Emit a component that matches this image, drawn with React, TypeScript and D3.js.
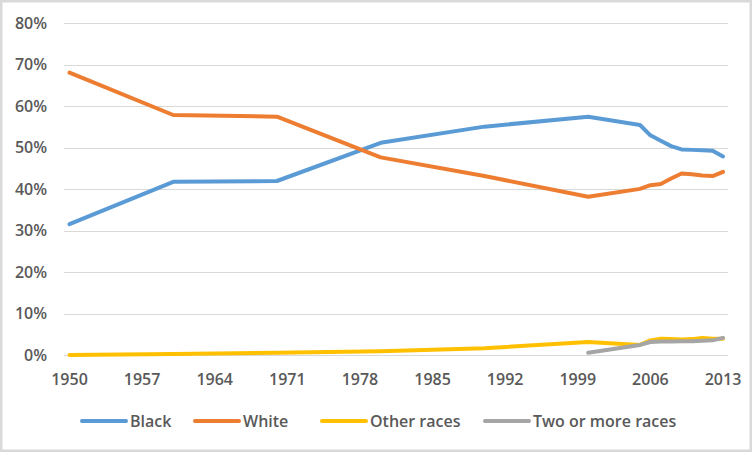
import React from "react";
import * as d3 from "d3";

const years = [1950, 1960, 1970, 1980, 1990, 2000, 2005, 2006, 2007, 2008, 2009, 2010, 2011, 2012, 2013];
const black = [31.6, 41.8, 42.0, 51.2, 55.1, 57.5, 55.5, 53.0, 51.7, 50.4, 49.6, 49.5, 49.4, 49.3, 47.9];
const white = [68.1, 57.9, 57.5, 47.7, 43.2, 38.2, 40.1, 41.0, 41.3, 42.6, 43.8, 43.6, 43.3, 43.2, 44.2];
const other = [0.1, 0.3, 0.6, 1.0, 1.7, 3.2, 2.5, 3.6, 4.0, 3.9, 3.8, 3.9, 4.2, 4.0, 4.0];
const twoYears = [2000, 2005, 2006, 2007, 2008, 2009, 2010, 2011, 2012, 2013];
const twoOrMore = [0.6, 2.5, 3.2, 3.3, 3.3, 3.4, 3.4, 3.5, 3.6, 4.2];
const xTicks = [1950, 1957, 1964, 1971, 1978, 1985, 1992, 1999, 2006, 2013];
const yTicks = [0, 10, 20, 30, 40, 50, 60, 70, 80];

const seriesNames = ["Black", "White", "Other races", "Two or more races"];
const colors = ["#5b9bd5", "#ed7d31", "#ffc000", "#a5a5a5"];

export default function App() {
  const W = 752, H = 452;
  const x = d3.scaleLinear().domain([1950, 2013]).range([69.5, 723]);
  const y = d3.scaleLinear().domain([0, 80]).range([355.3, 23.3]);
  const line = d3.line<[number, number]>().x(d => x(d[0])).y(d => y(d[1]));
  const series: [number, number][][] = [
    years.map((yr, i) => [yr, black[i]]),
    years.map((yr, i) => [yr, white[i]]),
    years.map((yr, i) => [yr, other[i]]),
    twoYears.map((yr, i) => [yr, twoOrMore[i]]),
  ];
  const font = "'Open Sans', sans-serif";
  const legendX = [82, 195, 322, 485];
  return (
    <svg width={W} height={H} style={{ position: "fixed", left: 0, top: 0 }} fontFamily={font}>
      <rect x={0} y={0} width={W} height={H} fill="#fff" />
      <rect x={1.25} y={1.25} width={W - 2.5} height={H - 2.5} fill="none" stroke="#d9d9d9" strokeWidth={2.5} />
      {yTicks.map(t => (
        <g key={t}>
          <line x1={64} x2={728} y1={Math.round(y(t)) + 0.5} y2={Math.round(y(t)) + 0.5} stroke="#d9d9d9" strokeWidth={1} />
          <text x={47} y={y(t)} dy="0.35em" textAnchor="end" fontSize={16} fontWeight={600} fill="#595959">{t}%</text>
        </g>
      ))}
      {xTicks.map(t => (
        <text key={t} x={x(t)} y={385} textAnchor="middle" fontSize={16} fontWeight={600} fill="#595959">{t}</text>
      ))}
      {series.map((s, i) => (
        <path key={i} d={line(s) || ""} fill="none" stroke={colors[i]} strokeWidth={4} strokeLinejoin="round" strokeLinecap="round" />
      ))}
      {seriesNames.map((n, i) => (
        <g key={n}>
          <line x1={legendX[i]} x2={legendX[i] + 44} y1={421} y2={421} stroke={colors[i]} strokeWidth={4} strokeLinecap="round" />
          <text x={legendX[i] + 48} y={421} dy="0.35em" fontSize={16} fontWeight={600} fill="#595959">{n}</text>
        </g>
      ))}
    </svg>
  );
}
